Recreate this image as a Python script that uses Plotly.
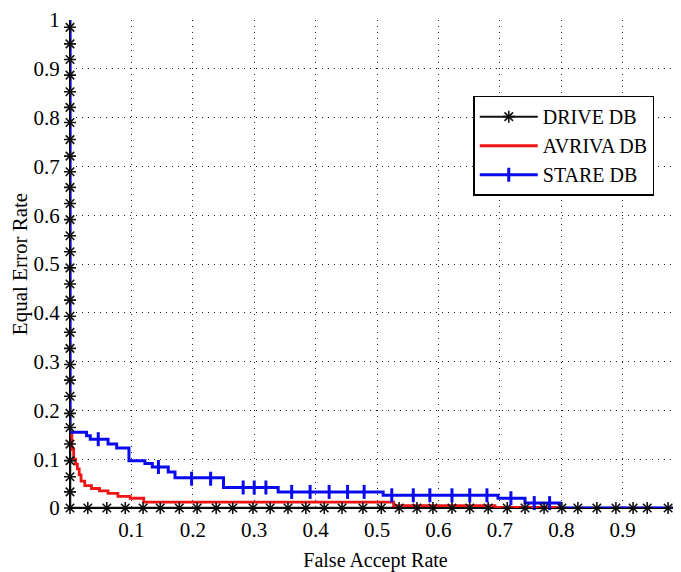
import plotly.graph_objects as go

# ---------------- data ----------------
# DRIVE DB: perfect curve, markers along FAR=0 and EER=0
drive_far = [0.0] * 31 + [0.029, 0.060, 0.090, 0.119, 0.147, 0.178, 0.207, 0.238, 0.265,
                          0.298, 0.326, 0.355, 0.384, 0.414, 0.443, 0.477, 0.507, 0.536,
                          0.565, 0.591, 0.622, 0.651, 0.681, 0.712, 0.741, 0.772, 0.801,
                          0.827, 0.858, 0.889, 0.917, 0.940, 0.974, 1.0]
drive_eer = [0.985, 0.951, 0.919, 0.887, 0.853, 0.821, 0.790, 0.755, 0.721, 0.689, 0.657,
             0.624, 0.591, 0.558, 0.525, 0.492, 0.459, 0.426, 0.393, 0.360, 0.327, 0.294,
             0.262, 0.229, 0.194, 0.165, 0.131, 0.097, 0.064, 0.033, 0.0] + [0.0] * 34

# AVRIVA DB: step curve
avriva_far = [0.0, 0.003, 0.006, 0.009, 0.012, 0.015, 0.018, 0.024, 0.035, 0.048, 0.062,
              0.078, 0.098, 0.120, 0.527, 0.692, 0.795]
avriva_eer = [0.155, 0.120, 0.100, 0.090, 0.080, 0.068, 0.055, 0.046, 0.040, 0.035, 0.030,
              0.024, 0.020, 0.012, 0.005, 0.001, 0.001]

# STARE DB: step curve
stare_far = [0.0, 0.0, 0.027, 0.033, 0.062, 0.076, 0.096, 0.122, 0.134, 0.160, 0.171,
             0.250, 0.339, 0.510, 0.697, 0.741, 0.798, 1.0]
stare_eer = [1.0, 0.155, 0.148, 0.141, 0.131, 0.123, 0.097, 0.091, 0.084, 0.074, 0.062,
             0.042, 0.033, 0.026, 0.020, 0.010, 0.0, 0.0]
# STARE marker positions
stare_mk_far = [0.046, 0.144, 0.198, 0.229, 0.282, 0.300, 0.319, 0.361, 0.391, 0.422, 0.452,
                0.479, 0.524, 0.559, 0.586, 0.622, 0.651, 0.679, 0.718, 0.756, 0.781]
stare_mk_eer = [0.141, 0.084, 0.060, 0.060, 0.042, 0.042, 0.042, 0.033, 0.033, 0.033, 0.033,
                0.033, 0.026, 0.026, 0.026, 0.026, 0.026, 0.026, 0.020, 0.010, 0.010]

x_ticks = [0.1, 0.2, 0.3, 0.4, 0.5, 0.6, 0.7, 0.8, 0.9]
x_labels = ["0.1", "0.2", "0.3", "0.4", "0.5", "0.6", "0.7", "0.8", "0.9"]
y_ticks = [0, 0.1, 0.2, 0.3, 0.4, 0.5, 0.6, 0.7, 0.8, 0.9, 1.0]
y_labels = ["0", "0.1", "0.2", "0.3", "0.4", "0.5", "0.6", "0.7", "0.8", "0.9", "1"]

FONT = "Liberation Serif"
BLUE = "#0a0aee"
RED = "#f01414"
BLACK = "#111111"

fig = go.Figure()

# lines
fig.add_trace(go.Scatter(x=drive_far, y=drive_eer, mode="lines",
                         line=dict(color=BLACK, width=2.5), showlegend=False))
fig.add_trace(go.Scatter(x=avriva_far, y=avriva_eer, mode="lines", line_shape="hv",
                         line=dict(color=RED, width=2.8), showlegend=False))
fig.add_trace(go.Scatter(x=stare_far, y=stare_eer, mode="lines", line_shape="hv",
                         line=dict(color=BLUE, width=3), showlegend=False))
# markers on top
fig.add_trace(go.Scatter(x=drive_far, y=drive_eer, mode="markers", cliponaxis=False,
                         marker=dict(symbol="asterisk-open", size=10, color=BLACK,
                                     line=dict(color=BLACK, width=1.6)),
                         showlegend=False))
fig.add_trace(go.Scatter(x=stare_mk_far, y=stare_mk_eer, mode="markers", cliponaxis=False,
                         marker=dict(symbol="line-ns-open", size=10, color=BLUE,
                                     line=dict(color=BLUE, width=3)),
                         showlegend=False))

# legend entries
fig.add_trace(go.Scatter(x=[None], y=[None], mode="lines+markers", name="DRIVE DB",
                         line=dict(color=BLACK, width=2),
                         marker=dict(symbol="asterisk-open", size=10, color=BLACK,
                                     line=dict(color=BLACK, width=1.6))))
fig.add_trace(go.Scatter(x=[None], y=[None], mode="lines", name="AVRIVA DB",
                         line=dict(color=RED, width=3)))
fig.add_trace(go.Scatter(x=[None], y=[None], mode="lines+markers", name="STARE DB",
                         line=dict(color=BLUE, width=3),
                         marker=dict(symbol="line-ns-open", size=10, color=BLUE,
                                     line=dict(color=BLUE, width=3))))

grid = dict(showgrid=True, gridcolor="#222", gridwidth=1.3, griddash="1.3px,4.7px")

# page body has an 8px default margin; the figure is sized to fit the window
fig.update_layout(
    width=673, height=564,
    margin=dict(l=62, r=0, t=7, b=64),
    paper_bgcolor="white", plot_bgcolor="white",
    font=dict(family=FONT, size=20, color="black"),
    showlegend=True,
    legend=dict(x=0.66, y=0.845, xanchor="left", yanchor="top",
                bgcolor="white", bordercolor="black", borderwidth=1.5,
                font=dict(family=FONT, size=20), tracegroupgap=0,
                itemwidth=58),
    xaxis=dict(range=[0, 0.995], tickvals=x_ticks, ticktext=x_labels,
               showline=True, linecolor="black", linewidth=1, zeroline=False,
               ticks="", tickfont=dict(size=21), ticklabelstandoff=3,
               title=dict(text="False Accept Rate", font=dict(size=20), standoff=11),
               **grid),
    yaxis=dict(range=[0, 1.0], tickvals=y_ticks, ticktext=y_labels,
               showline=True, linecolor="black", linewidth=1, zeroline=False,
               ticks="", tickfont=dict(size=21), ticklabeloverflow="allow",
               ticklabelstandoff=5,
               title=dict(text="Equal Error Rate", font=dict(size=21), standoff=4),
               **grid),
)

fig.write_html("out.html")
